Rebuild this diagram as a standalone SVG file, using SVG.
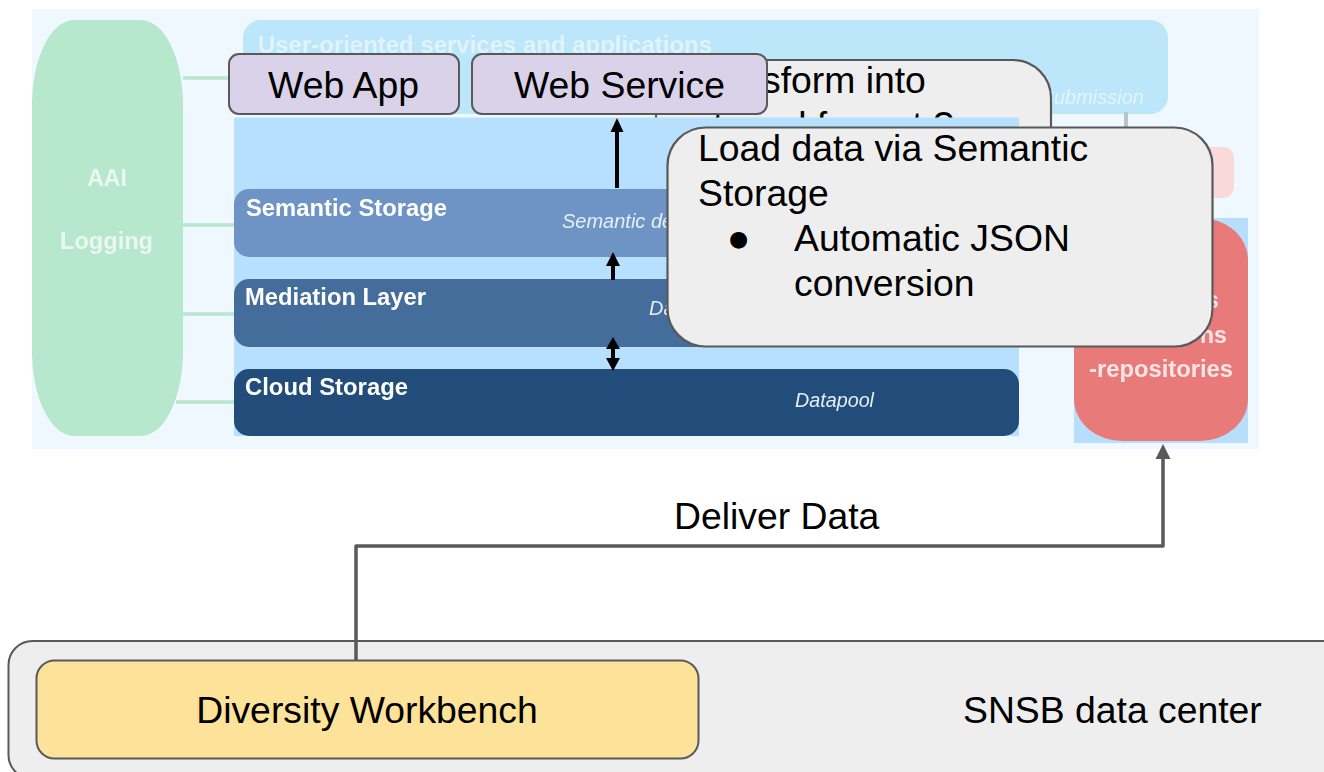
<svg xmlns="http://www.w3.org/2000/svg" width="1324" height="772" viewBox="0 0 1324 772">
<style>
text{font-family:"Liberation Sans",Arial,sans-serif}
.big{font-size:37.33px;fill:#000}
.card{fill:#eeeeee;stroke:#595959;stroke-width:2.2}
.web{fill:#d9d2e9;stroke:#595959;stroke-width:2}
.soft{filter:url(#soft)}
.h{font-weight:bold;font-size:23px;fill:#fff}
.i{font-style:italic;font-size:20px;fill:#e6eef7}
.g{stroke:#b7e7cd;stroke-width:3.5;fill:none}
.b{stroke:#000;stroke-width:4;fill:none}
</style>
<defs>
<filter id="soft" x="-5%" y="-5%" width="110%" height="110%"><feGaussianBlur stdDeviation="0.45"/></filter>
</defs>
<g id="background" class="soft">
<rect x="32" y="9" width="1227" height="440" fill="#eff8fe"/>
<rect x="243" y="20" width="925" height="94" rx="18" fill="#bce6f9"/>
<text class="h" x="258" y="53" textLength="454" lengthAdjust="spacingAndGlyphs" fill-opacity="0.55" style="fill:#fff">User-oriented services and applications</text>
<text class="i" x="1144" y="104" text-anchor="end" style="fill:#e4f4fc">Submission</text>
<rect x="1090" y="147" width="144" height="51" rx="11" fill="#f9d9d9"/>
</g>
<g id="transform-note">
<rect class="card" x="656" y="60" width="395" height="120" rx="38"/>
<text class="big" x="762" y="93">sform into</text>
<text class="big" x="684" y="138">internal format ?</text>
</g>
<g id="platform" class="soft">
<rect x="234" y="117.5" width="785" height="318.5" fill="#b7e0fe"/>
</g>
<g id="semantic-storage" class="soft">
<rect x="234" y="189" width="785" height="68" rx="15" fill="#6d94c4"/>
<text class="h" x="246" y="216" textLength="201" lengthAdjust="spacingAndGlyphs">Semantic Storage</text>
<text class="i" x="562" y="228">Semantic de</text>
</g>
<g id="mediation-layer" class="soft">
<rect x="234" y="279" width="785" height="68" rx="15" fill="#446d9c"/>
<text class="h" x="245" y="305" textLength="181" lengthAdjust="spacingAndGlyphs">Mediation Layer</text>
<text class="i" x="649" y="315">Da</text>
</g>
<g id="cloud-storage" class="soft">
<rect x="234" y="369" width="785" height="67" rx="15" fill="#224e7a"/>
<text class="h" x="245" y="395" textLength="163" lengthAdjust="spacingAndGlyphs">Cloud Storage</text>
<text class="i" x="795" y="407" textLength="79" lengthAdjust="spacingAndGlyphs">Datapool</text>
</g>
<g id="aai-logging" class="soft">
<rect x="32" y="20" width="151" height="416" rx="42" ry="85" fill="#b7e7cd"/>
<text class="h" x="107" y="186" text-anchor="middle" style="fill:#e9f8f0">AAI</text>
<text class="h" x="60" y="249" textLength="93" lengthAdjust="spacingAndGlyphs" style="fill:#e9f8f0">Logging</text>
</g>
<g id="repositories" class="soft">
<rect x="1074" y="218" width="174" height="225" fill="#b7dffc"/>
<rect x="1074" y="218" width="174" height="223" rx="48" ry="42" fill="#e97a7a"/>
<text class="h" x="1206" y="308" style="fill:#fbe6e6">s</text>
<text class="h" x="1200" y="343" style="fill:#fbe6e6">ns</text>
<text class="h" x="1089" y="377" textLength="144" lengthAdjust="spacingAndGlyphs" style="fill:#fbe6e6">-repositories</text>
</g>
<g id="snsb-data-center">
<rect x="8.500" y="641" width="1345" height="138" rx="24" fill="#eeeeee" stroke="#595959" stroke-width="2"/>
<text class="big" x="963" y="723">SNSB data center</text>
</g>
<g id="connectors">
<g class="soft">
<path class="g" d="M183 78H230M183 225H234M183 314H234M176 402H234"/>
<path d="M1126 112V128" stroke="#b8c4ca" stroke-width="4" fill="none"/>
<path class="b" d="M617 130V188"/><path d="M617 118L610.500 132H623.500Z"/>
<path class="b" d="M613 264V280"/><path d="M613 252L606 266H620Z"/>
<path class="b" d="M613 346V360"/><path d="M613 337L606 349H620Z"/><path d="M613 371L606 358H620Z"/>
</g>
<path d="M356 660V546H1163V458" fill="none" stroke="#595959" stroke-width="3.500" stroke-linejoin="round"/>
<path d="M1163 444L1155.500 459H1170.500Z" fill="#595959"/>
<text class="big" x="674" y="529">Deliver Data</text>
</g>
<g id="diversity-workbench">
<rect x="36.500" y="660.500" width="662" height="98" rx="18" fill="#fde299" stroke="#595959" stroke-width="2"/>
<text class="big" x="367" y="723" text-anchor="middle">Diversity Workbench</text>
</g>
<g id="web-app">
<rect class="web" x="229" y="54" width="230" height="60" rx="10"/>
<text class="big" x="343.500" y="98" text-anchor="middle">Web App</text>
</g>
<g id="web-service">
<rect class="web" x="472" y="54" width="295" height="60" rx="10"/>
<text class="big" x="619.500" y="98" text-anchor="middle">Web Service</text>
</g>
<g id="load-note">
<rect class="card" x="667.500" y="127.500" width="545" height="219" rx="38"/>
<text class="big" x="698" y="161">Load data via Semantic</text>
<text class="big" x="698" y="206">Storage</text>
<text class="big" x="729" y="246" style="font-size:22px;font-family:'DejaVu Sans',sans-serif">●</text>
<text class="big" x="794" y="251">Automatic JSON</text>
<text class="big" x="794" y="296">conversion</text>
</g>
</svg>
